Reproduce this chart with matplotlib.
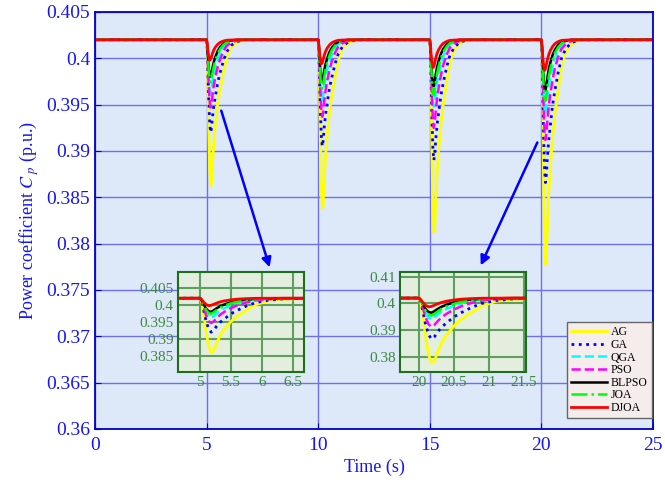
import numpy as np
import matplotlib
matplotlib.use("Agg")
import matplotlib.pyplot as plt
from matplotlib.ticker import FuncFormatter

plt.rcParams['font.family'] = ['Liberation Serif', 'DejaVu Serif']
plt.rcParams['mathtext.fontset'] = 'stix'

# ---- data ----
names = ['AG', 'GA', 'QGA', 'PSO', 'BLPSO', 'JOA', 'DJOA']
events = [5, 10, 15, 20]
base_cp = 0.402

# minimum Cp reached at each disturbance (5, 10, 15, 20 s)
min_ag = [0.3860, 0.3836, 0.3810, 0.3775]
min_ga = [0.3920, 0.3905, 0.3890, 0.3866]
min_qga = [0.3962, 0.3955, 0.3948, 0.3940]
min_pso = [0.3947, 0.3937, 0.3925, 0.3912]
min_blpso = [0.3980, 0.3975, 0.3970, 0.3965]
min_joa = [0.3974, 0.3967, 0.3960, 0.3954]
min_djoa = [0.3998, 0.3994, 0.3990, 0.3987]

# time after disturbance (s) and fraction of the dip depth at that time
dip_dt = [0, 0.03, 0.06, 0.1, 0.14, 0.18, 0.22, 0.27, 0.33, 0.4, 0.5, 0.6, 0.75, 0.9, 1.1, 1.35, 1.7]
prof_ag = [0, 0.08, 0.3, 0.62, 0.88, 0.99, 0.97, 0.82, 0.68, 0.56, 0.43, 0.33, 0.22, 0.12, 0.05, 0.02, 0]
prof_ga = [0, 0.1, 0.35, 0.68, 0.9, 1.0, 0.95, 0.82, 0.7, 0.6, 0.46, 0.36, 0.23, 0.13, 0.06, 0.02, 0]
prof_qga = [0, 0.12, 0.4, 0.72, 0.93, 1.0, 0.92, 0.78, 0.62, 0.5, 0.36, 0.25, 0.14, 0.07, 0.03, 0.01, 0]
prof_pso = [0, 0.12, 0.38, 0.7, 0.92, 1.0, 0.94, 0.8, 0.66, 0.54, 0.4, 0.29, 0.17, 0.09, 0.04, 0.01, 0]
prof_blpso = [0, 0.15, 0.45, 0.78, 0.96, 1.0, 0.9, 0.74, 0.58, 0.45, 0.3, 0.2, 0.1, 0.05, 0.02, 0, 0]
prof_joa = [0, 0.14, 0.43, 0.76, 0.95, 1.0, 0.91, 0.76, 0.6, 0.47, 0.33, 0.22, 0.12, 0.06, 0.02, 0.01, 0]
prof_djoa = [0, 0.2, 0.55, 0.85, 1.0, 0.95, 0.82, 0.65, 0.48, 0.35, 0.22, 0.13, 0.06, 0.02, 0.01, 0, 0]

mins = [min_ag, min_ga, min_qga, min_pso, min_blpso, min_joa, min_djoa]
profs = [prof_ag, prof_ga, prof_qga, prof_pso, prof_blpso, prof_joa, prof_djoa]
styles = [
    dict(color='#ffff00', ls='-', lw=2.0),
    dict(color='#0000ff', ls=':', lw=2.0),
    dict(color='#00ffff', ls='--', lw=1.8),
    dict(color='#ff00ff', ls='--', lw=1.8),
    dict(color='black', ls='-', lw=1.8),
    dict(color='#00ff00', ls='-.', lw=1.8),
    dict(color='#ff0000', ls='-', lw=2.0),
]


def build_series(mn, prof):
    t = [0.0]
    y = [base_cp]
    for e, m in zip(events, mn):
        for dt, f in zip(dip_dt, prof):
            t.append(e + dt)
            y.append(base_cp - (base_cp - m) * f)
    t.append(25.0)
    y.append(base_cp)
    return np.array(t), np.array(y)


series = [build_series(m, p) for m, p in zip(mins, profs)]

fmt = FuncFormatter(lambda v, p: '%g' % round(v, 6))
blue = '#1414ff'

fig = plt.figure(figsize=(6.65, 4.86), dpi=100)
ax = fig.add_axes([95 / 665, 1 - 429 / 486, 558 / 665, 417 / 486])
ax.set_facecolor('#dde8f8')
for (t, y), st, nm in zip(series, styles, names):
    ax.plot(t, y, label=nm, **st)
ax.set_xlim(0, 25)
ax.set_ylim(0.36, 0.405)
ax.set_xticks([0, 5, 10, 15, 20, 25])
ax.set_yticks(np.arange(0.36, 0.4051, 0.005))
ax.yaxis.set_major_formatter(fmt)
ax.grid(True, color='#6e6ef0', lw=1.0)
ax.set_axisbelow(True)
ax.tick_params(direction='in', labelsize=14, length=4, color='#0000cc', labelcolor=blue)
ax.tick_params(axis='x', pad=6)
ax.set_xlabel('Time (s)', color=blue, fontsize=13, labelpad=3)
ax.set_ylabel('Power coefficient $C_{\\ p}$ (p.u.)', color=blue, fontsize=13)
for s in ax.spines.values():
    s.set_color('#0000cc')
    s.set_linewidth(1.3)

leg = ax.legend(loc='lower right', bbox_to_anchor=(652 / 665, 1 - 418 / 486),
                bbox_transform=fig.transFigure, fontsize=8.5, handlelength=3.0,
                labelspacing=0.05, borderpad=0.35, handletextpad=0.35,
                borderaxespad=0, fancybox=False, framealpha=1)
leg.get_frame().set_facecolor('#f5ecec')
leg.get_frame().set_edgecolor('#666666')

# arrows to zoom boxes
arrow = dict(arrowstyle='-|>', color='#0000ff', lw=1.8, mutation_scale=14)
ax.annotate('', xy=(7.86, 0.37716), xytext=(5.62, 0.39464), arrowprops=arrow)
ax.annotate('', xy=(17.23, 0.37738), xytext=(19.87, 0.39119), arrowprops=arrow)

# insets
insets = [
    ([178, 304], (4.645, 6.68), (0.3803, 0.4097), [5, 5.5, 6, 6.5], [0.385, 0.39, 0.395, 0.4, 0.405]),
    ([400, 526], (19.73, 21.53), (0.3742, 0.4118), [20, 20.5, 21, 21.5], [0.38, 0.39, 0.4, 0.41]),
]
for (x0, x1), xl, yl, xt, yt in insets:
    ia = fig.add_axes([x0 / 665, 1 - 372 / 486, (x1 - x0) / 665, 100 / 486])
    ia.set_facecolor('#e3eedf')
    for (t, y), st in zip(series, styles):
        ia.plot(t, y, **st)
    ia.set_xlim(*xl)
    ia.set_ylim(*yl)
    ia.set_xticks(xt)
    ia.set_yticks(yt)
    ia.xaxis.set_major_formatter(fmt)
    ia.yaxis.set_major_formatter(fmt)
    ia.grid(True, color='#5e9e5e', lw=1.5)
    ia.set_axisbelow(True)
    ia.tick_params(length=0, labelsize=11, labelcolor='#3c8a3c', pad=3)
    for s in ia.spines.values():
        s.set_color('#1f6e1f')
        s.set_linewidth(1.5)

fig.savefig('out.png', dpi=100)
